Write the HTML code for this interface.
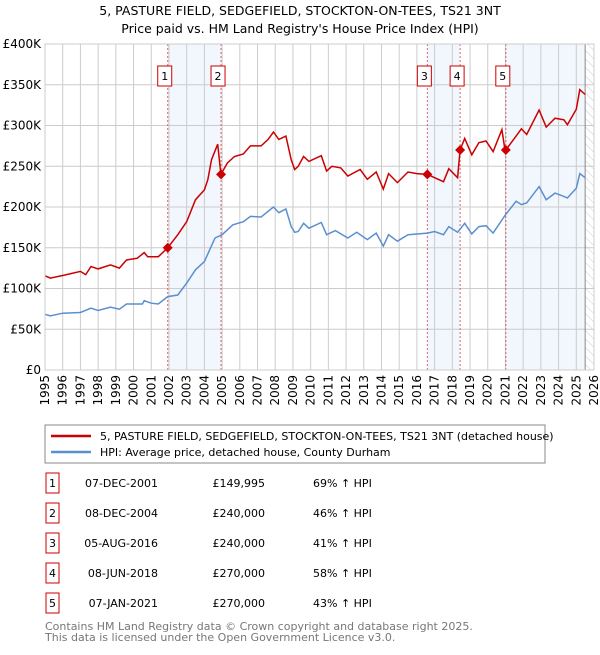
<!DOCTYPE html>
<html><head><meta charset="utf-8"><style>
body{margin:0;background:#fff;font-family:"Liberation Sans","DejaVu Sans",sans-serif;}
svg text{font-family:"DejaVu Sans","Liberation Sans",sans-serif;}
</style></head><body>
<svg id="c" width="600" height="650" xmlns="http://www.w3.org/2000/svg">
<defs><pattern id="hatch" width="6" height="6" patternUnits="userSpaceOnUse" patternTransform="rotate(-45)"><line x1="0" y1="0" x2="0" y2="6" stroke="#ccc" stroke-width="1"/></pattern></defs>
<text x="300" y="15" text-anchor="middle" font-size="12.5" fill="#000">5, PASTURE FIELD, SEDGEFIELD, STOCKTON-ON-TEES, TS21 3NT</text>
<text x="300" y="33" text-anchor="middle" font-size="12.5" fill="#000">Price paid vs. HM Land Registry's House Price Index (HPI)</text>
<g id="plot"></g>
<rect x="45" y="425" width="500" height="38" fill="#fff" stroke="#888"/>
<line x1="51" y1="436" x2="91" y2="436" stroke="#cc0000" stroke-width="2.5"/>
<text x="100" y="440" font-size="11">5, PASTURE FIELD, SEDGEFIELD, STOCKTON-ON-TEES, TS21 3NT (detached house)</text>
<line x1="51" y1="452" x2="91" y2="452" stroke="#5b8fd0" stroke-width="2.5"/>
<text x="100" y="456" font-size="11">HPI: Average price, detached house, County Durham</text>
<g id="table"></g>
<text x="45" y="630" font-size="11" fill="#777">Contains HM Land Registry data © Crown copyright and database right 2025.</text>
<text x="45" y="641" font-size="11" fill="#777">This data is licensed under the Open Government Licence v3.0.</text>
</svg>
<script>
const redT=[1995,1995.3,1996,1997,1997.3,1997.6,1998,1998.7,1999.2,1999.6,2000.2,2000.6,2000.8,2001.4,2001.93,2002.5,2003,2003.5,2004,2004.2,2004.4,2004.75,2004.93,2005.3,2005.7,2006.2,2006.6,2007.2,2007.6,2007.9,2008.2,2008.6,2008.9,2009.1,2009.3,2009.6,2009.9,2010.6,2010.9,2011.2,2011.7,2012.1,2012.8,2013.2,2013.7,2014.1,2014.4,2014.9,2015.5,2016.0,2016.6,2017.0,2017.5,2017.8,2018.3,2018.44,2018.7,2019.1,2019.5,2019.9,2020.3,2020.8,2020.95,2021.02,2021.6,2021.9,2022.2,2022.9,2023.3,2023.8,2024.3,2024.5,2025.0,2025.2,2025.5];
const redV=[115.6,112.7,116,121,117,127,124,129,125,135,137,144,139,139,150,166,182,209,221,234,258,277,240,254,262,265,275,275,283,292,283,287,258,246,250,262,256,263,244,250,248,238,246,234,243,222,241,230,243,241,240,236,231,247,236,270,284,264,279,281,268,295,273,270,287,296,289,319,298,309,307,301,320,344,338];
const hpiT=[1995,1995.3,1996,1997,1997.6,1998,1998.7,1999.2,1999.6,2000.5,2000.6,2001,2001.4,2001.93,2002.5,2003,2003.5,2004,2004.3,2004.6,2005,2005.6,2006.2,2006.6,2007.2,2007.9,2008.2,2008.6,2008.9,2009.1,2009.3,2009.6,2009.9,2010.6,2010.9,2011.4,2012.1,2012.6,2013.2,2013.7,2014.1,2014.4,2014.9,2015.5,2016.6,2017,2017.5,2017.8,2018.3,2018.7,2019.1,2019.5,2019.9,2020.3,2020.8,2021.0,2021.6,2021.9,2022.2,2022.9,2023.3,2023.8,2024.3,2024.5,2025.0,2025.2,2025.5];
const hpiV=[68.4,66.4,69.7,70.5,75.8,73,77,74.6,81,81,85,82,81,90,92,106.6,123,133,147.5,162,166,178,182,188.5,187.7,200,193,197.5,176,169,170,180,174,181,166,171,162,169,160,168,152,166,158,166,168,170,166,176,169,180,167,176,177,168,184,190.5,207,203,205,225,209,217,213,211,223,241,236];
const saleLabels=["1","2","3","4","5"];
const saleT=[2001.93,2004.94,2016.59,2018.44,2021.02];
const saleV=[149.995,240,240,270,270];
const saleDates=["07-DEC-2001","08-DEC-2004","05-AUG-2016","08-JUN-2018","07-JAN-2021"];
const salePrices=["£149,995","£240,000","£240,000","£270,000","£270,000"];
const salePct=["69% ↑ HPI","46% ↑ HPI","41% ↑ HPI","58% ↑ HPI","43% ↑ HPI"];
const yTicks=[0,50,100,150,200,250,300,350,400];
const yLabels=["£0","£50K","£100K","£150K","£200K","£250K","£300K","£350K","£400K"];
const xYears=[1995,1996,1997,1998,1999,2000,2001,2002,2003,2004,2005,2006,2007,2008,2009,2010,2011,2012,2013,2014,2015,2016,2017,2018,2019,2020,2021,2022,2023,2024,2025,2026];

const L=45,R=594,T=44,B=370;
const x=t=>L+(t-1995)/(2026-1995)*(R-L);
const y=v=>B-v/400*(B-T);
const NS="http://www.w3.org/2000/svg";
const g=document.getElementById('plot');
function mk(tag,attrs,parent){const e=document.createElementNS(NS,tag);for(const k in attrs)e.setAttribute(k,attrs[k]);(parent||g).appendChild(e);return e;}

const shades=[[saleT[0],saleT[1]],[saleT[2],saleT[3]],[saleT[4],2025.5]];
shades.forEach((s,i)=>{const r=mk('rect',{x:x(s[0]),y:T,width:x(s[1])-x(s[0]),height:B-T,fill:'#f2f6fd'});

});
const h=mk('rect',{x:x(2025.5),y:T,width:R-x(2025.5),height:B-T,fill:'url(#hatch)'});


yTicks.forEach((v,i)=>{const l=mk('line',{x1:L,x2:R,y1:y(v),y2:y(v),stroke:'#ccc','stroke-width':1});


const t=mk('text',{x:L-4,y:y(v)+4,'text-anchor':'end','font-size':12});t.textContent=yLabels[i];

});
xYears.forEach(yr=>{const l=mk('line',{x1:x(yr),x2:x(yr),y1:T,y2:B,stroke:'#ccc','stroke-width':1});


const t=mk('text',{x:0,y:0,'text-anchor':'end','font-size':12,transform:`translate(${x(yr)+4},${B+5}) rotate(-90)`});t.textContent=yr;

});
const vl=mk('line',{x1:x(2025.5),x2:x(2025.5),y1:T,y2:B,stroke:'#888','stroke-width':1});


saleT.forEach((t,i)=>{const l=mk('line',{x1:x(t),x2:x(t),y1:T,y2:B,stroke:'#e06060','stroke-width':1,'stroke-dasharray':'2,2'});


const bx=mk('rect',{x:x(t)-10,y:66,width:14,height:20,fill:'#fff',stroke:'#cc0000'});


const tx=mk('text',{x:x(t)-3,y:80,'text-anchor':'middle','font-size':11});tx.textContent=saleLabels[i];

});
const pts=(T_,V)=>T_.map((t,i)=>x(t).toFixed(1)+','+y(V[i]).toFixed(1)).join(' ');
const hp=mk('polyline',{points:pts(hpiT,hpiV),fill:'none',stroke:'#5b8fd0','stroke-width':1.5});


const rp=mk('polyline',{points:pts(redT,redV),fill:'none',stroke:'#cc0000','stroke-width':1.5});


saleT.forEach((t,i)=>{const cx=x(t),cy=y(saleV[i]);const d=mk('polygon',{points:`${cx},${cy-5} ${cx+5},${cy} ${cx},${cy+5} ${cx-5},${cy}`,fill:'#cc0000'});

});
const fr=mk('rect',{x:L,y:T,width:R-L,height:B-T,fill:'none',stroke:'#ccc'});


const tb=document.getElementById('table');
saleLabels.forEach((lab,i)=>{const cy=483+i*30;
const b=mk('rect',{x:46,y:cy-10,width:13,height:20,fill:'#fff',stroke:'#cc0000'},tb);


const cols=[[52.5,lab,'middle'],[158,saleDates[i],'end'],[265,salePrices[i],'end'],[313,salePct[i],'start']];
cols.forEach(c=>{const t=mk('text',{x:c[0],y:cy+4,'text-anchor':c[2],'font-size':11},tb);t.textContent=c[1];

});});
</script>
</body></html>
